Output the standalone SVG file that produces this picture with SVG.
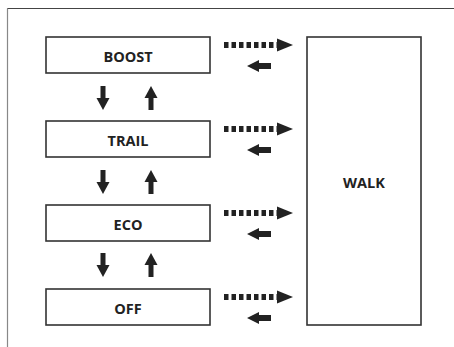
<svg xmlns="http://www.w3.org/2000/svg" xmlns:xlink="http://www.w3.org/1999/xlink" width="454" height="347" viewBox="0 0 454 347">
<style>
.box{fill:#fff;stroke:#333;stroke-width:1.6}
.lbl{font-family:"Open Sans","Liberation Sans",sans-serif;font-weight:bold;font-size:14.5px;fill:#222;text-anchor:middle}
.ar{fill:#222}
.dots{stroke:#222;stroke-width:6;stroke-dasharray:4.5 3;fill:none}
</style>
<defs>
<g id="vpair">
<rect class="ar" x="100.5" y="0" width="5" height="13"/>
<polygon class="ar" points="96.5,12 109.5,12 103,24"/>
<polygon class="ar" points="151,0 144.5,12 157.5,12"/>
<rect class="ar" x="148.5" y="11" width="5" height="13"/>
</g>
<g id="hpair">
<line class="dots" x1="224" y1="8" x2="279" y2="8"/>
<polygon class="ar" points="277,1.5 293,8 277,14.5"/>
<polygon class="ar" points="247,29 259,23 259,35"/>
<rect class="ar" x="258" y="26" width="13" height="6"/>
</g>
</defs>
<path d="M7.5,347 V8.5 H454" fill="none" stroke="#444" stroke-width="1"/>
<line x1="7.5" y1="8.5" x2="7.5" y2="347" stroke="#888" stroke-width="1.2"/>
<g id="boost"><rect class="box" x="46" y="37" width="164" height="36"/><text class="lbl" x="128" y="62">BOOST</text></g>
<g id="trail"><rect class="box" x="46" y="121" width="164" height="36"/><text class="lbl" x="128" y="146">TRAIL</text></g>
<g id="eco"><rect class="box" x="46" y="205" width="164" height="36"/><text class="lbl" x="128" y="230">ECO</text></g>
<g id="off"><rect class="box" x="46" y="289" width="164" height="36"/><text class="lbl" x="128" y="314">OFF</text></g>
<g id="walk"><rect class="box" x="307" y="37" width="114" height="288"/><text class="lbl" x="364" y="188">WALK</text></g>
<g id="connectors">
<use xlink:href="#vpair" y="86"/>
<use xlink:href="#vpair" y="170"/>
<use xlink:href="#vpair" y="253"/>
<use xlink:href="#hpair" y="37"/>
<use xlink:href="#hpair" y="121"/>
<use xlink:href="#hpair" y="205"/>
<use xlink:href="#hpair" y="289"/>
</g>
</svg>
